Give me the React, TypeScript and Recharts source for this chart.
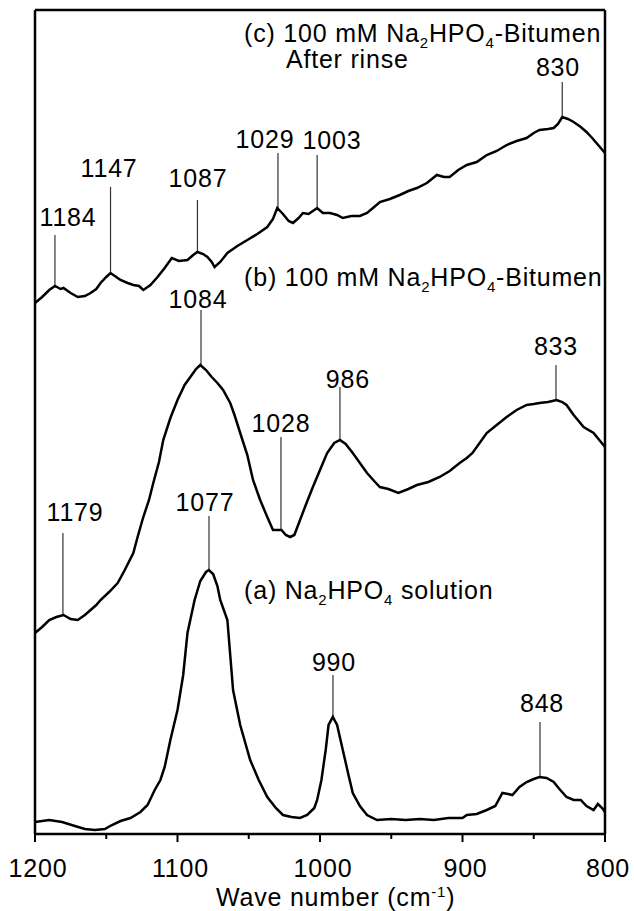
// Raman spectra of Na2HPO4 solution and Na2HPO4-bitumen, with peak annotations

import {
  LineChart,
  Line,
  XAxis,
  YAxis,
  ReferenceLine,
  ReferenceDot
} from 'recharts'

// wavenumber (cm-1) / intensity (a.u.)
const waveA = [1200, 1190, 1181, 1172, 1165, 1158, 1151, 1146, 1140, 1133, 1126, 1121, 1116, 1112, 1109, 1105, 1100, 1096, 1093, 1088, 1084, 1080, 1078, 1075, 1072, 1070, 1065, 1061, 1056, 1049, 1043, 1037, 1031, 1026, 1020, 1014, 1009, 1004, 1002, 999, 996, 994, 991, 988, 984, 980, 977, 972, 967, 960, 950, 940, 930, 920, 910, 900, 897, 890, 883, 877, 872, 868, 865, 860, 855, 850, 846, 841, 836, 832, 827, 822, 817, 813, 808, 805, 802, 800]
const intensityA = [14, 16, 14, 10, 7, 6, 7, 11, 15, 18, 24, 31, 46, 56, 69, 96, 126, 161, 203, 236, 255, 264, 266, 262, 250, 236, 216, 146, 111, 76, 56, 39, 28, 21, 19, 18, 21, 28, 36, 56, 86, 111, 119, 111, 86, 61, 43, 30, 21, 16, 17, 16, 17, 16, 18, 18, 21, 22, 26, 30, 43, 42, 41, 49, 54, 57, 59, 58, 54, 47, 39, 36, 36, 30, 26, 32, 28, 24]

const waveB = [1200, 1195, 1190, 1185, 1180, 1175, 1170, 1165, 1161, 1157, 1154, 1148, 1142, 1137, 1131, 1128, 1124, 1120, 1117, 1113, 1110, 1105, 1100, 1095, 1091, 1087, 1084, 1080, 1076, 1072, 1068, 1063, 1060, 1056, 1051, 1047, 1042, 1037, 1033, 1030, 1027, 1024, 1021, 1018, 1014, 1010, 1005, 1000, 995, 990, 986, 982, 977, 972, 967, 962, 958, 952, 945, 938, 932, 924, 916, 909, 902, 897, 893, 888, 883, 876, 869, 862, 855, 850, 846, 840, 834, 830, 827, 822, 815, 808, 804, 800]
const intensityB = [203, 209, 216, 219, 221, 217, 216, 221, 226, 231, 236, 244, 253, 266, 283, 299, 319, 336, 353, 374, 396, 418, 436, 451, 459, 467, 471, 466, 459, 453, 446, 433, 421, 403, 381, 356, 336, 319, 306, 306, 306, 301, 299, 301, 316, 331, 349, 366, 383, 393, 396, 392, 383, 373, 363, 355, 349, 347, 343, 347, 351, 354, 359, 365, 373, 378, 383, 393, 403, 411, 419, 426, 431, 432, 433, 434, 436, 434, 431, 421, 409, 403, 396, 389]

const waveC = [1200, 1195, 1190, 1186, 1182, 1180, 1175, 1170, 1165, 1161, 1157, 1154, 1150, 1147, 1143, 1140, 1135, 1131, 1127, 1124, 1119, 1114, 1109, 1104, 1099, 1093, 1089, 1086, 1082, 1079, 1076, 1074, 1070, 1065, 1058, 1051, 1044, 1037, 1033, 1030, 1026, 1022, 1019, 1015, 1012, 1008, 1005, 1002, 998, 993, 988, 984, 978, 972, 967, 962, 958, 951, 944, 938, 932, 925, 918, 913, 909, 903, 897, 890, 883, 876, 869, 862, 855, 850, 846, 840, 836, 833, 830, 826, 822, 817, 813, 809, 806, 803, 800]
const intensityC = [533, 539, 546, 550, 547, 548, 543, 539, 540, 543, 547, 553, 559, 563, 559, 556, 553, 551, 550, 546, 551, 559, 568, 578, 575, 576, 581, 584, 582, 579, 574, 569, 574, 583, 590, 596, 602, 609, 617, 628, 622, 615, 613, 618, 623, 622, 625, 628, 623, 623, 621, 618, 620, 620, 623, 629, 634, 637, 641, 645, 648, 653, 661, 659, 659, 666, 671, 674, 681, 685, 691, 695, 698, 703, 706, 707, 708, 712, 719, 717, 714, 709, 704, 698, 693, 688, 683]

const xTicks = [1200, 1150, 1100, 1050, 1000, 950, 900, 850, 800]
const X_MIN = 800
const X_MAX = 1200
const Y_MIN = 0
const Y_MAX = 826
// bottom edge of the frame, in intensity units
const Y_BASE = 2

// peak label, line position, line top / bottom, label position
const peakLabels = ['1184', '1147', '1087', '1029', '1003', '830', '1084', '1028', '986', '833', '1179', '1077', '990', '848']
const peakLineX = [1186, 1147, 1086, 1029.5, 1002, 830, 1083.5, 1027.4, 986, 834.4, 1180.4, 1077.9, 990.9, 845.6]
const peakLineTop = [601, 649, 636, 683, 681, 754, 526, 399, 449, 471, 303, 320, 161, 114]
const peakLineBottom = [550, 563, 584, 628, 628, 719, 471, 306, 396, 436, 221, 266, 119, 59]
const peakTextX = [1176.8, 1148, 1085.6, 1038.6, 991.6, 833, 1085.6, 1027.4, 980.4, 834.4, 1171.9, 1080.7, 990.2, 844.2]
const peakTextY = [619, 668, 658, 697, 696, 769, 537, 413, 457, 490, 324, 334, 174, 133]

const toPoints = (w: number[], v: number[]) => w.map((x, i) => ({ w: x, v: v[i] }))

const FONT = '"Liberation Sans", Arial, sans-serif'
const FS = 25
const LS = 0.8

const Formula = ({ x, y, prefix, suffix }: any) => (
  <text x={x} y={y + 9} fontSize={FS} letterSpacing={LS} fill="#000" fontFamily={FONT}>
    {prefix}Na
    <tspan dy={6} fontSize={15}>2</tspan>
    <tspan dy={-6}>HPO</tspan>
    <tspan dy={6} fontSize={15}>4</tspan>
    <tspan dy={-6}>{suffix}</tspan>
  </text>
)

const WaveTick = ({ x, y, payload }: any) => {
  const v = payload.value
  if (v % 100 !== 0) return <g />
  return (
    <text x={x + 3} y={y + 18} textAnchor="middle" fontSize={FS} letterSpacing={LS} fill="#000" fontFamily={FONT}>
      {v}
    </text>
  )
}

export default function App() {
  const dataA = toPoints(waveA, intensityA)
  const dataB = toPoints(waveB, intensityB)
  const dataC = toPoints(waveC, intensityC)

  // plot frame
  const frameSegments = [
    [{ x: X_MAX, y: Y_MAX }, { x: X_MIN, y: Y_MAX }],
    [{ x: X_MAX, y: Y_BASE }, { x: X_MIN, y: Y_BASE }],
    [{ x: X_MAX, y: Y_BASE }, { x: X_MAX, y: Y_MAX }],
    [{ x: X_MIN, y: Y_BASE }, { x: X_MIN, y: Y_MAX }]
  ]

  return (
    <div style={{ position: 'absolute', left: 0, top: 0, width: 634, height: 911, background: '#fff' }}>
      <LineChart
        width={634}
        height={911}
        margin={{ top: 10, right: 29, left: 35, bottom: 15 }}
        style={{ fontFamily: FONT }}
      >
        <XAxis
          dataKey="w"
          type="number"
          domain={[X_MIN, X_MAX]}
          reversed
          ticks={xTicks}
          interval={0}
          axisLine={false}
          tickLine={false}
          tickSize={6}
          tickMargin={17}
          height={60}
          tick={<WaveTick />}
        />
        <YAxis type="number" domain={[Y_MIN, Y_MAX]} allowDataOverflow hide />

        {frameSegments.map((seg, i) => (
          <ReferenceLine key={`frame-${i}`} segment={seg} stroke="#000" strokeWidth={2.5} ifOverflow="visible" />
        ))}
        {xTicks.map(t => (
          <ReferenceLine
            key={`tick-${t}`}
            segment={[{ x: t, y: Y_BASE + 1 }, { x: t, y: t % 100 === 0 ? -6 : -3 }]}
            stroke="#000"
            strokeWidth={2}
            ifOverflow="visible"
          />
        ))}

        {peakLabels.map((label, i) => (
          <ReferenceLine
            key={`line-${label}`}
            segment={[
              { x: peakLineX[i], y: peakLineTop[i] },
              { x: peakLineX[i], y: peakLineBottom[i] }
            ]}
            stroke="#333"
            strokeWidth={1.2}
          />
        ))}

        <Line data={dataA} dataKey="v" type="linear" stroke="#000" strokeWidth={2.5} dot={false} isAnimationActive={false} />
        <Line data={dataB} dataKey="v" type="linear" stroke="#000" strokeWidth={2.5} dot={false} isAnimationActive={false} />
        <Line data={dataC} dataKey="v" type="linear" stroke="#000" strokeWidth={2.5} dot={false} isAnimationActive={false} />

        {peakLabels.map((label, i) => (
          <ReferenceDot
            key={`text-${label}`}
            x={peakTextX[i]}
            y={peakTextY[i]}
            r={0}
            fill="none"
            stroke="none"
            label={{
              content: ({ viewBox }: any) => (
                <text
                  x={viewBox.x}
                  y={viewBox.y + 9}
                  textAnchor="middle"
                  fontSize={FS}
                  letterSpacing={LS}
                  fill="#000"
                  fontFamily={FONT}
                >
                  {label}
                </text>
              )
            }}
          />
        ))}

        {/* axis title, below the plot */}
        <ReferenceDot
          x={989}
          y={-61}
          r={0}
          fill="none"
          stroke="none"
          ifOverflow="visible"
          label={{
            content: ({ viewBox }: any) => (
              <text x={viewBox.x} y={viewBox.y + 9} textAnchor="middle" fontSize={FS} letterSpacing={LS} fill="#000" fontFamily={FONT}>
                Wave number (cm
                <tspan dy={-9} fontSize={15}>-1</tspan>
                <tspan dy={9}>)</tspan>
              </text>
            )
          }}
        />

        {/* series labels */}
        <ReferenceDot
          x={1053.3}
          y={803}
          r={0}
          fill="none"
          stroke="none"
          label={{
            content: ({ viewBox }: any) => (
              <Formula x={viewBox.x} y={viewBox.y} prefix="(c) 100 mM " suffix="-Bitumen" />
            )
          }}
        />
        <ReferenceDot
          x={1023.9}
          y={777}
          r={0}
          fill="none"
          stroke="none"
          label={{
            content: ({ viewBox }: any) => (
              <text x={viewBox.x} y={viewBox.y + 9} fontSize={FS} letterSpacing={LS} fill="#000" fontFamily={FONT}>
                After rinse
              </text>
            )
          }}
        />
        <ReferenceDot
          x={1053.3}
          y={559}
          r={0}
          fill="none"
          stroke="none"
          label={{
            content: ({ viewBox }: any) => (
              <Formula x={viewBox.x} y={viewBox.y} prefix="(b) 100 mM " suffix="-Bitumen" />
            )
          }}
        />
        <ReferenceDot
          x={1053.3}
          y={246}
          r={0}
          fill="none"
          stroke="none"
          label={{
            content: ({ viewBox }: any) => (
              <Formula x={viewBox.x} y={viewBox.y} prefix="(a) " suffix=" solution" />
            )
          }}
        />
      </LineChart>
    </div>
  )
}
